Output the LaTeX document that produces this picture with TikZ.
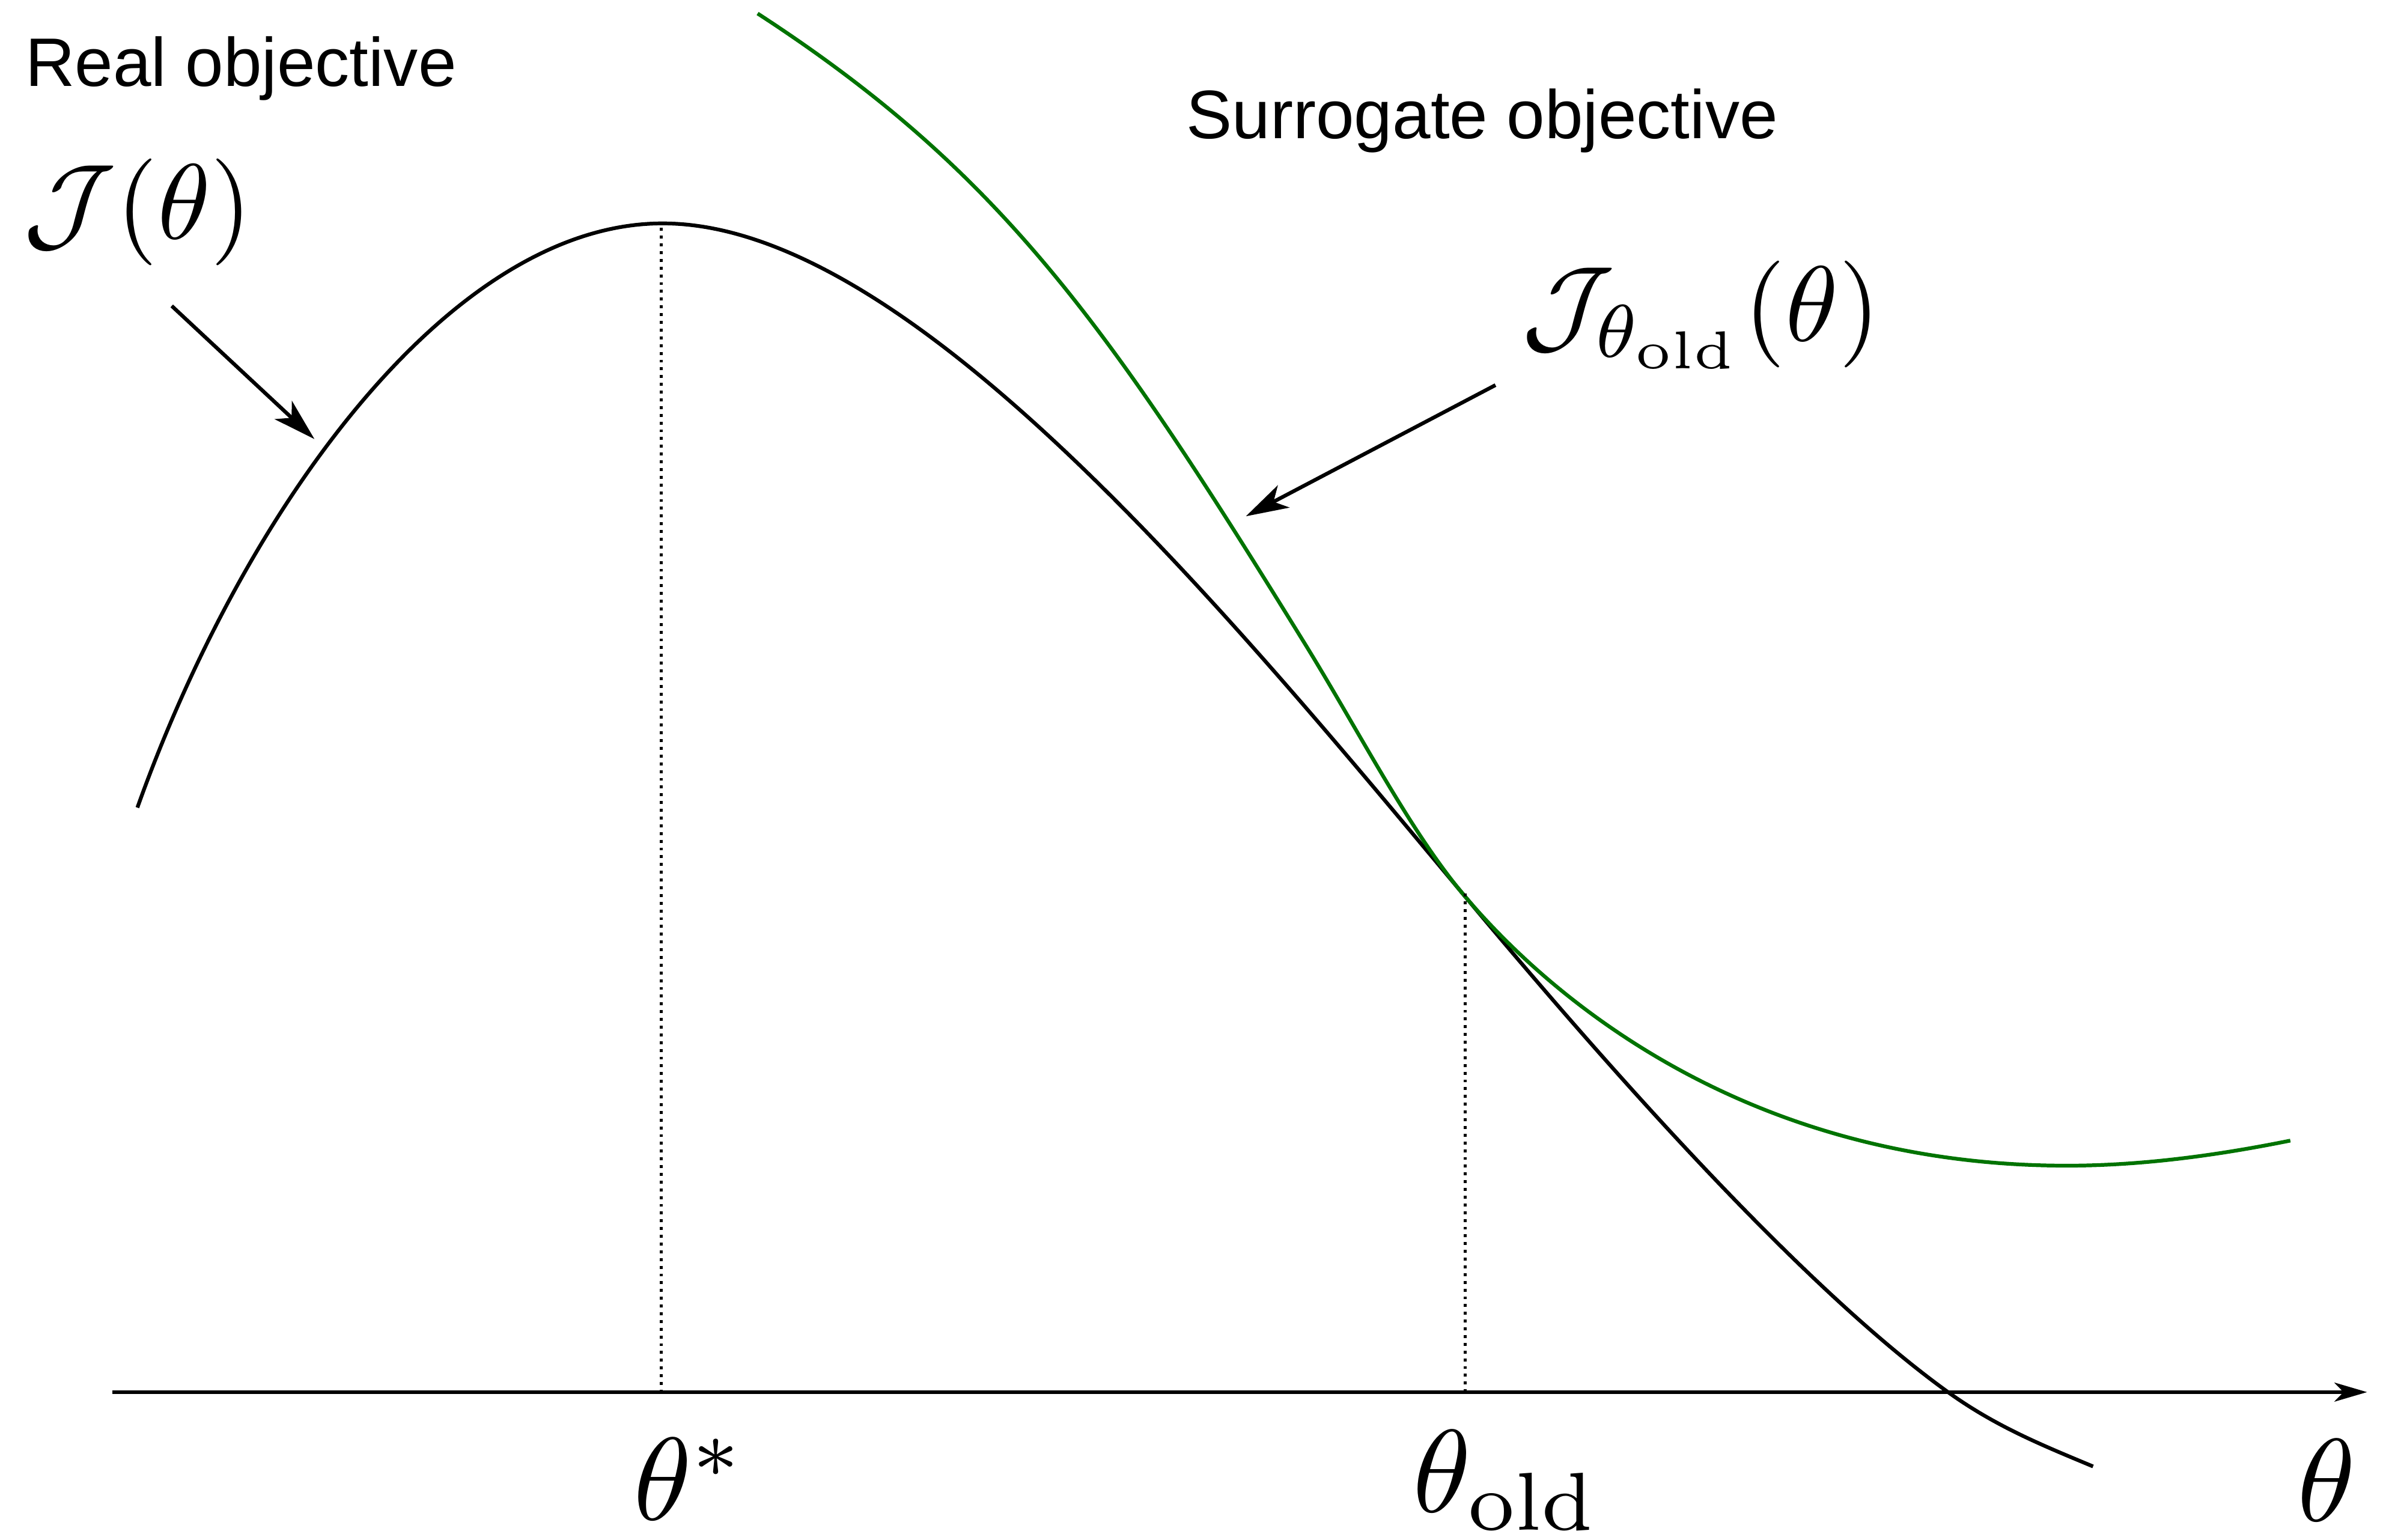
\documentclass[tikz,border=0pt]{standalone}
\usepackage{amsmath,amssymb}
\usepackage{graphicx}
\usepackage[no-math]{fontspec}
\setsansfont{Liberation Sans}
\usepackage{xcolor}
\usepackage{tikz}
\usetikzlibrary{arrows.meta,calc,positioning}
\definecolor{surrgreen}{HTML}{007300}
\newcommand{\mathlab}[2]{\scalebox{#1}{$#2$}}

\begin{document}
\begin{tikzpicture}[
  curve/.style={line width=0.7pt,line join=round},
  guide/.style={line width=0.55pt,dash pattern=on 0.55pt off 0.9pt},
  pointer/.style={line width=0.7pt,-{Stealth[length=2.8mm,width=1.65mm,inset=0.75mm]}},
  axis/.style={line width=0.7pt,-{Stealth[length=2.15mm,width=1.25mm,inset=0.6mm]}},
  txt/.style={font=\sffamily\fontsize{12.85}{15}\selectfont,inner sep=0pt},
  mlab/.style={inner sep=0pt,anchor=base west}]
  \useasboundingbox (0,0) rectangle (15.68,10.13);
  % axis
  \coordinate (axl) at (0.74,0.97);
  \coordinate (axr) at (15.575,0.97);
  \draw[axis] (axl) -- (axr);
  % real objective
  \draw[curve] (0.904,4.816) .. controls (1.604,6.776) and (2.96,8.66) .. (4.36,8.66)
    .. controls (5.96,8.66) and (8.02,6.175) .. (9.62,4.255)
    .. controls (10.72,2.935) and (11.919,1.617) .. (12.819,0.969)
    .. controls (13.139,0.739) and (13.452,0.615) .. (13.772,0.481);
  % surrogate objective
  \draw[curve,surrgreen] (4.985,10.041) .. controls (6.585,9.001) and (7.286,8.00) .. (8.586,5.894)
    .. controls (8.936,5.327) and (9.27,4.675) .. (9.62,4.255)
    .. controls (10.02,3.775) and (11.30,2.46) .. (13.60,2.46)
    .. controls (14.10,2.46) and (14.60,2.53) .. (15.07,2.625);
  % optimum and old parameters
  \coordinate (opt) at (4.35,8.63);
  \coordinate (old) at (9.64,4.25);
  \draw[guide] (opt) -- (opt |- axl);
  \draw[guide] (old) -- (old |- axl);
  \node[mlab] (tstar) at (4.16,0.13) {\mathlab{2.2}{\theta^*}};
  \node[mlab] (told) at (9.29,0.18) {\mathlab{2.2}{\theta_{\mathrm{old}}}};
  \node[mlab] (tax) at (15.11,0.12) {\mathlab{2.2}{\theta}};
  % labels
  \node[txt,anchor=base west] (realtxt) at (0.16,9.561) {Real objective};
  \node[txt,anchor=base west] (surrtxt) at (7.80,9.218) {Surrogate objective};
  \node[mlab] (jreal) at (0.15,8.557) {\mathlab{2.0}{\mathcal{J}(\theta)}};
  \node[mlab] (jsurr) at (10.01,7.885) {\mathlab{2.0}{\mathcal{J}_{\theta_{\mathrm{old}}}(\theta)}};
  \coordinate (jrealtail) at (1.13,8.117);
  \coordinate (jrealtip) at (2.069,7.241);
  \coordinate (jsurrtail) at (9.84,7.596);
  \coordinate (jsurrtip) at (8.198,6.733);
  \draw[pointer] (jrealtail) -- (jrealtip);
  \draw[pointer] (jsurrtail) -- (jsurrtip);
\end{tikzpicture}
\end{document}
